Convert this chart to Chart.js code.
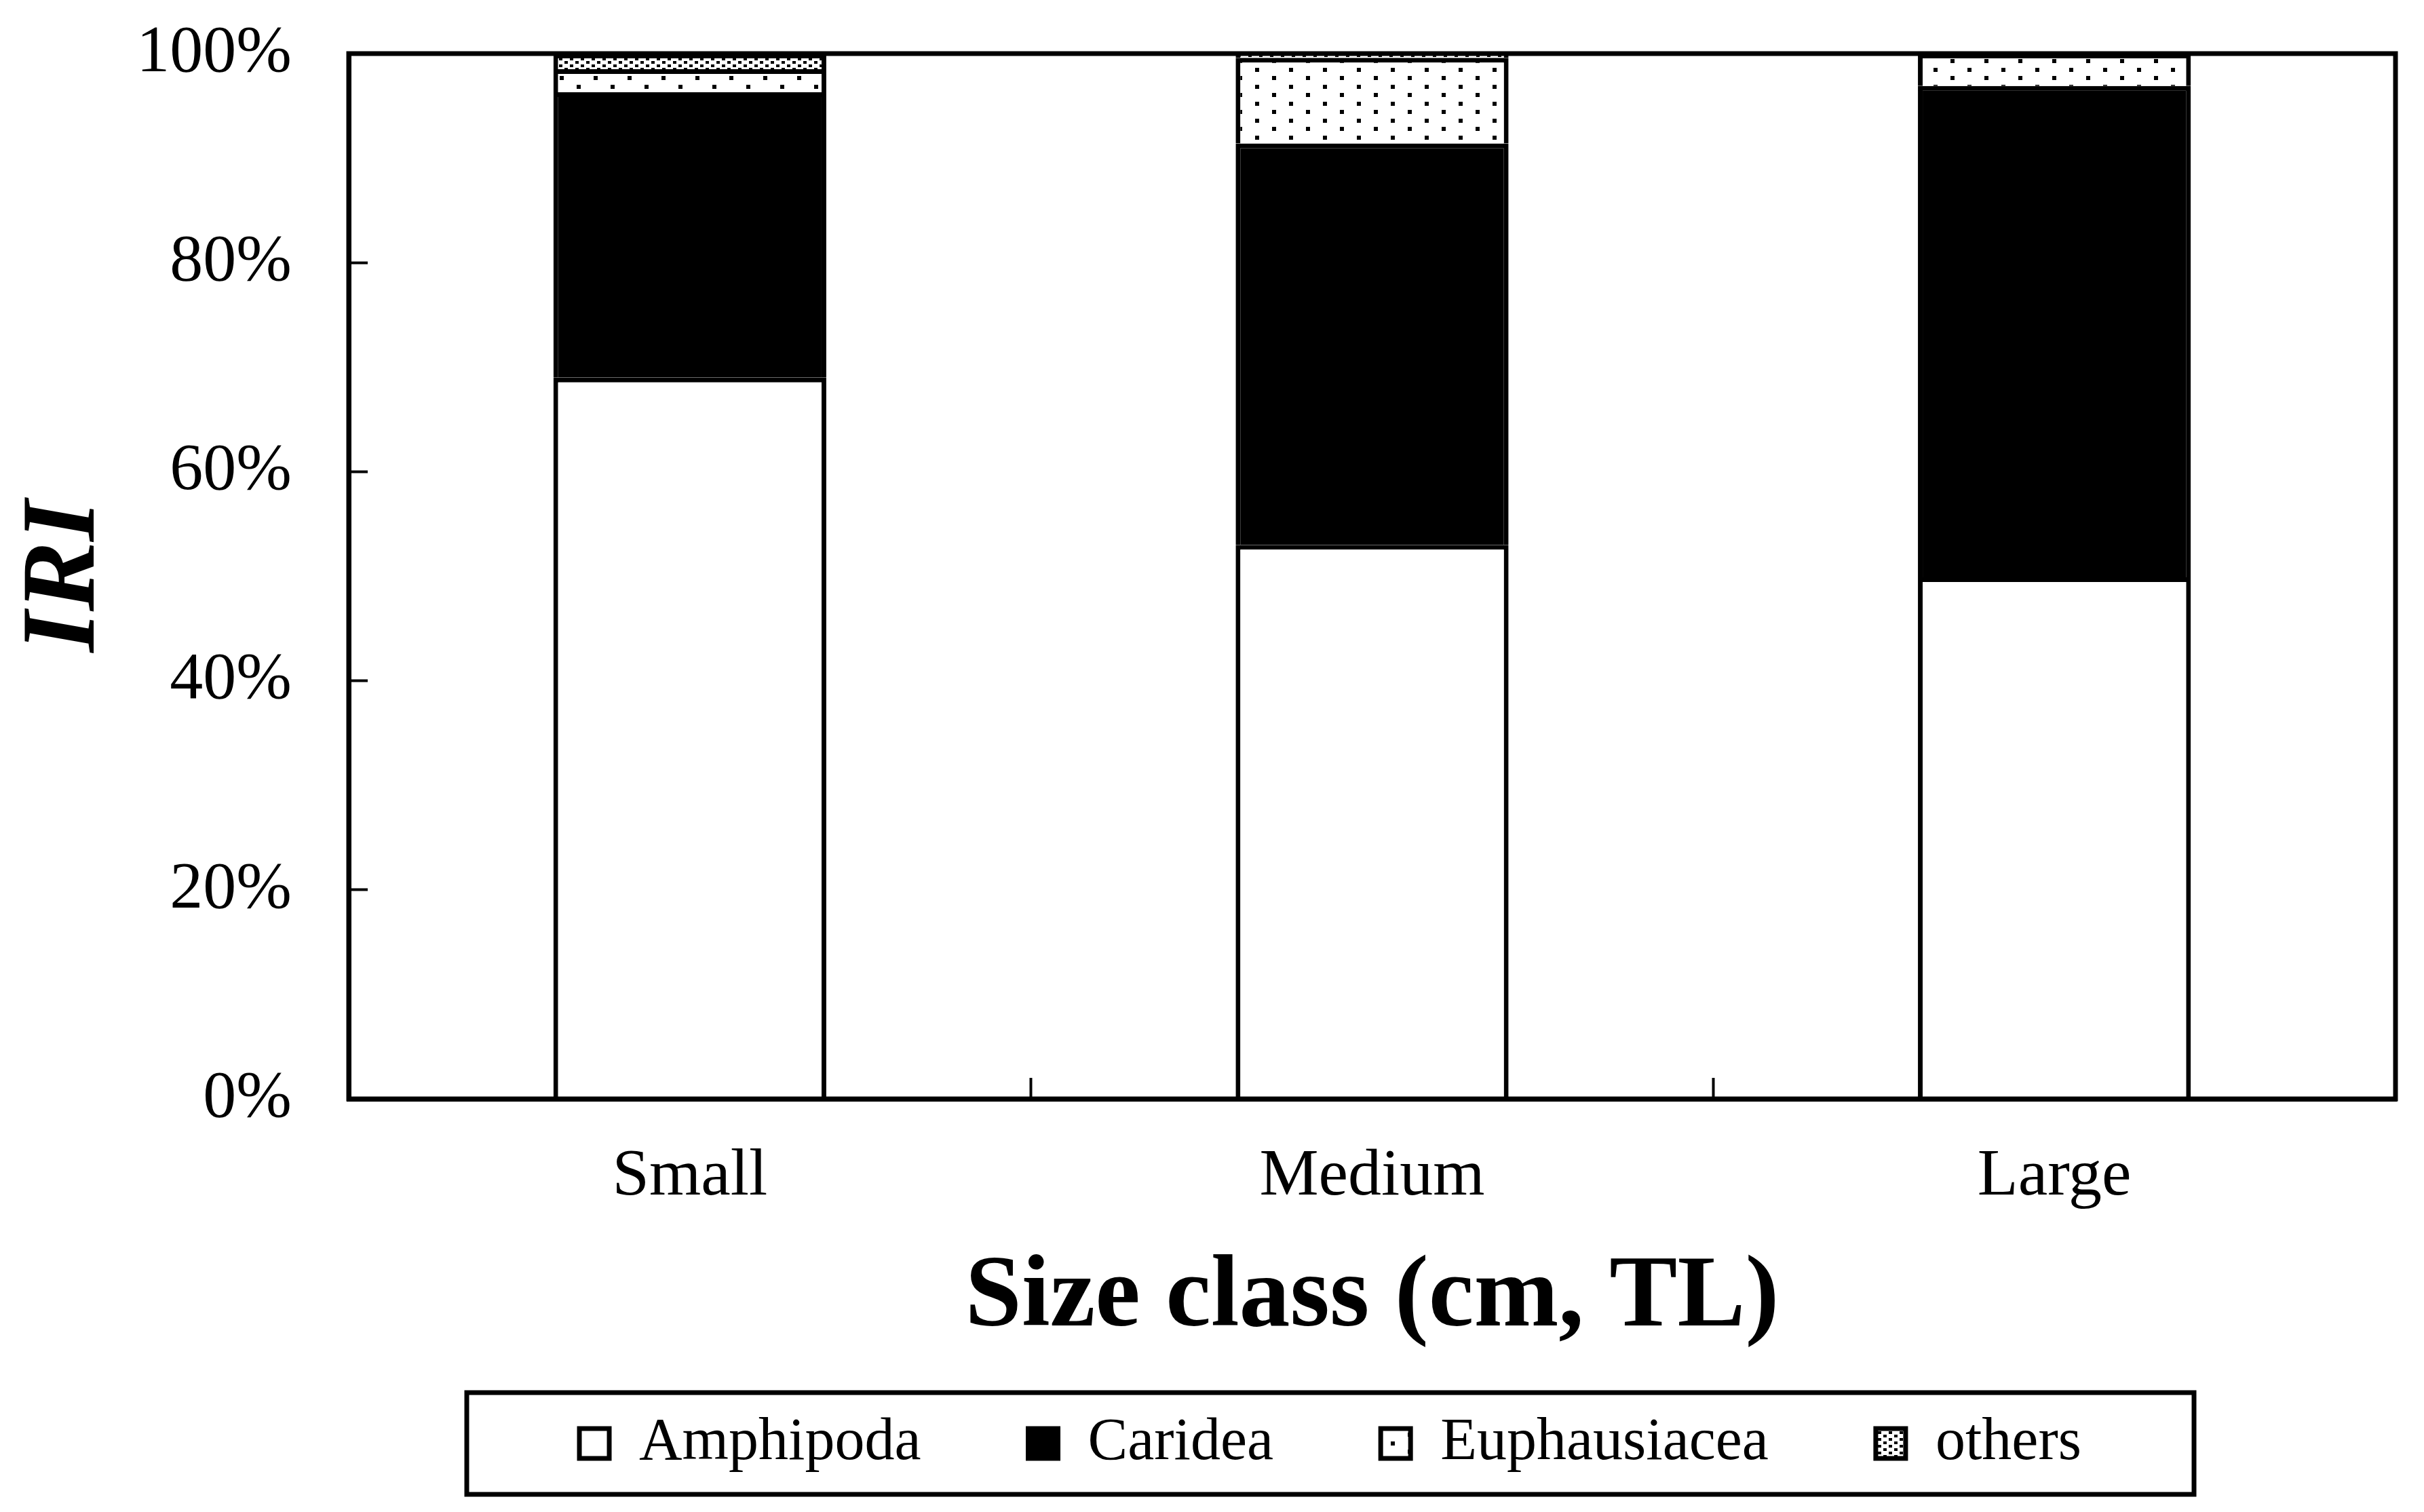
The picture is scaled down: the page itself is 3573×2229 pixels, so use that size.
<!doctype html>
<html lang="en">

<head>
    <meta charset="utf-8">
    <title>IRI by size class</title>
    <script src="https://cdn.jsdelivr.net/npm/chart.js@4"></script>
    <style>
        body {
            margin: 0;
            background: #ffffff;
        }

        #chart {
            display: block;
        }
    </style>
</head>

<body>
    <canvas id="chart" width="3573" height="2229" style="width: 3573px; height: 2229px;"></canvas>

    <script>
        // values (% of IRI)
        const sizeClasses = ['Small', 'Medium', 'Large'];
        const amphipoda = [69.0, 53.0, 49.9];
        const caridea = [27.3, 38.4, 47.0];
        const euphausiacea = [2.2, 8.2, 3.1];
        const others = [1.5, 0.4, 0];
        const yTicks = [0, 20, 40, 60, 80, 100];

        const serif = 'Liberation Serif';

        // black & white fill patterns like the excel original
        function makePattern(w, h, dots, size) {
            const c = document.createElement('canvas');
            c.width = w;
            c.height = h;
            const g = c.getContext('2d');
            g.fillStyle = '#ffffff';
            g.fillRect(0, 0, w, h);
            g.fillStyle = '#000000';
            dots.forEach(d => g.fillRect(d[0], d[1], size[0], size[1]));
            return document.getElementById('chart').getContext('2d').createPattern(c, 'repeat');
        }

        const sparseDots = makePattern(50, 25, [[0, 0], [25, 12]], [6, 6]);
        const denseDots = makePattern(16, 10, [[0, 0], [8, 5]], [5, 4]);

        // frame round the plot and the legend
        const frames = {
            id: 'frames',
            afterLayout(chart) {
                // excel legend box sits a little right of centre
                chart.legend.left = 688;
                chart.legend.right = 3234;
            },
            afterDatasetsDraw(chart) {
                const a = chart.chartArea;
                const ctx = chart.ctx;
                ctx.save();
                ctx.strokeStyle = '#000000';
                ctx.lineWidth = 7;
                ctx.strokeRect(a.left, a.top, a.right - a.left, a.bottom - a.top);
                ctx.restore();
            },
            afterDraw(chart) {
                const lg = chart.legend;
                const pad = lg.options.labels.padding;
                const mid = lg.top + pad + lg.options.labels.font.size / 2;
                const ctx = chart.ctx;
                ctx.save();
                ctx.strokeStyle = '#000000';
                ctx.lineWidth = 7;
                ctx.strokeRect(lg.left, mid - 75, lg.right - lg.left, 150);
                ctx.restore();
            }
        };

        const barStyle = {
            borderColor: '#000000',
            borderWidth: 7,
            categoryPercentage: 1,
            barPercentage: 0.4
        };

        new Chart(document.getElementById('chart'), {
            type: 'bar',
            data: {
                labels: sizeClasses,
                datasets: [
                    { label: 'Amphipoda', data: amphipoda, backgroundColor: '#ffffff', ...barStyle },
                    { label: 'Caridea', data: caridea, backgroundColor: '#000000', ...barStyle },
                    { label: 'Euphausiacea', data: euphausiacea, backgroundColor: sparseDots, ...barStyle },
                    { label: 'others', data: others, backgroundColor: denseDots, ...barStyle }
                ]
            },
            plugins: [frames],
            options: {
                responsive: false,
                devicePixelRatio: 1,
                animation: false,
                layout: {
                    padding: { top: 79, right: 42, bottom: 47, left: 0 }
                },
                plugins: {
                    tooltip: { enabled: false },
                    legend: {
                        position: 'bottom',
                        labels: {
                            color: '#000000',
                            font: { family: serif, size: 88 },
                            boxWidth: 44,
                            boxHeight: 44,
                            padding: 158
                        }
                    }
                },
                scales: {
                    x: {
                        stacked: true,
                        afterFit: s => { s.height = 306; },
                        border: { display: true, color: '#000000', width: 7 },
                        grid: {
                            offset: true,
                            drawOnChartArea: false,
                            drawTicks: true,
                            tickLength: -31,
                            tickWidth: 4,
                            tickColor: '#000000'
                        },
                        ticks: {
                            color: '#000000',
                            font: { family: serif, size: 98 },
                            padding: 87,
                            maxRotation: 0
                        },
                        title: {
                            display: true,
                            text: 'Size class (cm, TL)',
                            color: '#000000',
                            font: { family: serif, size: 150, weight: 'bold', lineHeight: 1 },
                            padding: { top: 0, bottom: -64 }
                        }
                    },
                    y: {
                        stacked: true,
                        min: yTicks[0],
                        max: yTicks[yTicks.length - 1],
                        afterFit: s => {
                            s.width = 514;
                            // keep the label padding from pushing the plot down
                            s.paddingTop = 0;
                            s.paddingBottom = 0;
                        },
                        afterBuildTicks: s => { s.ticks = yTicks.map(v => ({ value: v })); },
                        border: { display: true, color: '#000000', width: 7 },
                        grid: {
                            drawOnChartArea: false,
                            drawTicks: true,
                            tickLength: -28,
                            tickWidth: 4,
                            tickColor: '#000000'
                        },
                        ticks: {
                            color: '#000000',
                            font: { family: serif, size: 98 },
                            padding: 112,
                            callback: v => v + '%'
                        },
                        title: {
                            display: true,
                            text: 'IRI',
                            color: '#000000',
                            font: { family: serif, size: 155, weight: 'bold', style: 'italic', lineHeight: 1 },
                            padding: { top: 20, bottom: 0 }
                        }
                    }
                }
            }
        });
    </script>
</body>

</html>
